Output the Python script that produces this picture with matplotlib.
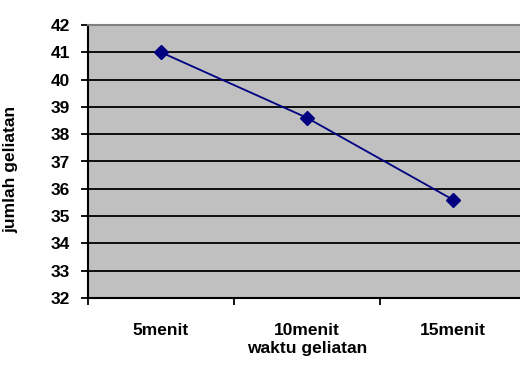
import matplotlib
matplotlib.use("Agg")
import matplotlib.pyplot as plt
from matplotlib.ticker import FixedLocator

# jumlah geliatan per waktu pengamatan
categories = ["5menit", "10menit", "15menit"]
values = [41.0, 38.6, 35.6]
y_ticks = list(range(32, 43))

plt.rcParams['font.family'] = ['Liberation Sans', 'DejaVu Sans']
plt.rcParams['font.weight'] = 'bold'

fig = plt.figure(figsize=(5.2, 3.65), dpi=100)
ax = fig.add_axes([88 / 520, 1 - 298 / 365, (526 - 88) / 520, (298 - 25) / 365])
ax.set_facecolor('#c0c0c0')

x = list(range(len(categories)))
ax.plot(x, values, color='#000080', linewidth=1.3, marker='D',
        markersize=7, markerfacecolor='#000080', markeredgecolor='#000080',
        zorder=3)

ax.set_xlim(-0.5, len(categories) - 0.5)
ax.set_ylim(32, 42)
ax.set_yticks(y_ticks)
ax.yaxis.grid(True, color='black', linewidth=1.3)
ax.set_axisbelow(True)

# category labels centred, ticks on the boundaries
ax.set_xticks(x)
ax.set_xticklabels(categories, fontsize=12.5, fontweight='bold')
ax.xaxis.set_minor_locator(FixedLocator([i - 0.5 for i in range(len(categories) + 1)]))
ax.tick_params(axis='x', which='major', length=0, pad=18)
ax.tick_params(axis='x', which='minor', length=5, width=1.3, direction='out')
ax.tick_params(axis='y', length=5, width=1.3, direction='out', labelsize=12.5, pad=8)

for lbl in ax.get_yticklabels():
    lbl.set_fontweight('bold')

ax.spines['left'].set_color('black')
ax.spines['left'].set_linewidth(1.5)
ax.spines['bottom'].set_color('black')
ax.spines['bottom'].set_linewidth(1.5)
ax.spines['top'].set_color('#808080')
ax.spines['top'].set_linewidth(1.5)
ax.spines['right'].set_visible(False)

ax.set_xlabel('waktu geliatan', fontsize=12.5, fontweight='bold', labelpad=2)
ax.set_ylabel('jumlah geliatan', fontsize=12.5, fontweight='bold')
ax.yaxis.set_label_coords(-0.16, 0.47)

fig.savefig('out.png', dpi=100)
